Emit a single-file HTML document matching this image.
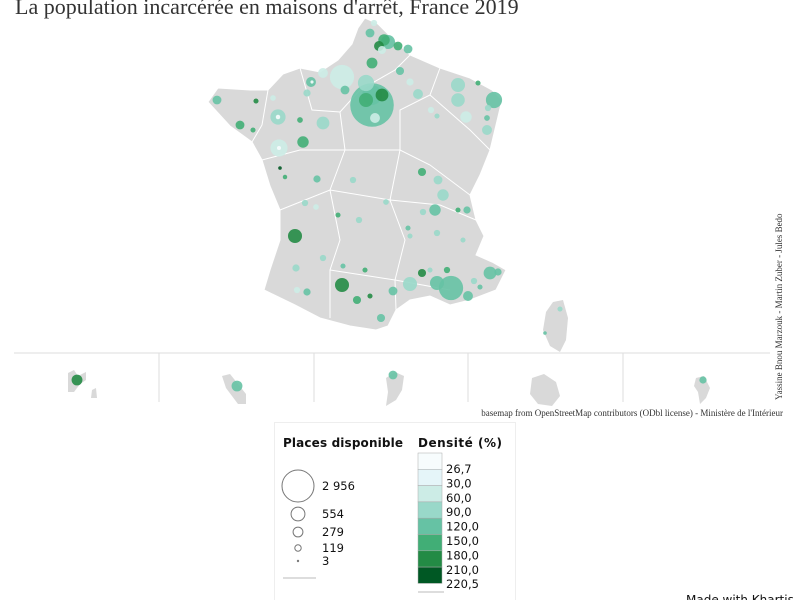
<!DOCTYPE html>
<html><head><meta charset="utf-8"><style>
body{margin:0;background:#fff;}
svg{display:block;font-family:"Liberation Serif",serif;}
.leg{font-family:"DejaVu Sans",sans-serif;}
</style></head><body>
<svg width="800" height="600" viewBox="0 0 800 600">
<text x="15" y="14" font-size="22" fill="#333">La population incarcérée en maisons d'arrêt, France 2019</text>
<g>
<path d="M365,18 L378,24 L392,38 L410,55 L440,68 L470,78 L492,90 L502,100 L496,125 L490,150 L480,175 L470,195 L476,220 L484,236 L476,255 L492,262 L506,270 L496,290 L470,300 L450,305 L430,296 L410,300 L396,310 L388,326 L376,330 L350,326 L320,318 L295,305 L264,290 L270,270 L280,240 L280,210 L270,186 L262,160 L252,142 L230,126 L208,102 L218,88 L250,90 L268,90 L283,74 L300,68 L320,72 L338,60 L352,44 L358,28 Z" fill="#d9d9d9" stroke="#fff" stroke-width="1"/>
<path d="M553,302 L563,300 L568,318 L566,340 L560,352 L550,346 L543,330 L546,312 Z" fill="#d9d9d9"/>
<g stroke="#fff" stroke-width="1" fill="none">
<path d="M300,68 L312,110 L340,112 L360,90 L395,70 L410,55"/>
<path d="M340,112 L345,150 L330,190 L340,240 L330,270 L330,318"/>
<path d="M262,160 L300,150 L345,150 L400,150 L430,165 L470,195"/>
<path d="M400,150 L400,110 L430,95 L440,68"/>
<path d="M430,95 L470,130 L490,150"/>
<path d="M400,150 L390,200 L405,240 L395,280 L396,310"/>
<path d="M390,200 L440,205 L476,220"/>
<path d="M280,210 L330,190 L390,200"/>
<path d="M330,270 L395,280 L450,290"/>
<path d="M268,90 L262,125 L252,142"/>
</g>
</g>
<g>
<line x1="14" y1="353" x2="770" y2="353" stroke="#ddd"/>
<line x1="159" y1="353" x2="159" y2="402" stroke="#ddd"/>
<line x1="314" y1="353" x2="314" y2="402" stroke="#ddd"/>
<line x1="468" y1="353" x2="468" y2="402" stroke="#ddd"/>
<line x1="623" y1="353" x2="623" y2="402" stroke="#ddd"/>
<path d="M68,373 L74,370 L78,376 L86,372 L86,380 L80,384 L74,392 L68,392 Z M92,390 L96,388 L97,398 L91,398 Z" fill="#d9d9d9"/>
<path d="M222,376 L230,374 L238,384 L246,394 L246,404 L238,404 L232,396 L226,388 Z" fill="#d9d9d9"/>
<path d="M386,378 L395,372 L404,376 L402,390 L396,400 L386,406 L388,392 Z" fill="#d9d9d9"/>
<path d="M532,378 L544,374 L556,382 L560,396 L552,406 L538,404 L530,394 Z" fill="#d9d9d9"/>
<path d="M696,378 L704,376 L710,388 L706,398 L700,404 L698,392 L694,386 Z" fill="#d9d9d9"/>
</g>
<g id="bubbles"></g>
<text x="783" y="416" font-size="9" text-anchor="end" fill="#333">basemap from OpenStreetMap contributors (ODbl license) - Ministère de l'Intérieur</text>
<text transform="translate(782,400) rotate(-90)" font-size="9" fill="#333">Yassine Bnou Marzouk - Martin Zuber - Jules Bedo</text>
<g class="leg">
<rect x="274.5" y="422.5" width="241" height="180" fill="#fff" stroke="#eee"/>
<text x="283" y="447" font-size="12" font-weight="bold" fill="#111" textLength="120">Places disponible</text>
<text x="418" y="447" font-size="12" font-weight="bold" fill="#111" textLength="84">Densité (%)</text>
<g id="sizeleg"></g>
<line x1="283" y1="578" x2="316" y2="578" stroke="#ddd" stroke-width="2"/>
<g id="colleg"></g>
<line x1="418" y1="592" x2="444" y2="592" stroke="#ddd" stroke-width="2"/>
</g>
<text x="686" y="604" font-size="12" class="leg" fill="#111">Made with Khartis</text>
</svg>
<script>
const xs=[372,372,366,382,375,374,384,379,388,398,408,382,370,372,342,323,400,410,418,458,458,466,478,431,437,494,488,487,487,311,312,307,345,366,217,256,273,278,278,300,323,240,253,279,279,303,280,285,317,295,305,353,316,338,359,386,422,438,443,435,423,458,467,437,410,463,408,296,323,343,297,307,342,357,370,365,381,393,410,422,430,451,437,468,490,498,474,480,447,560,545,77,237,393,703];
const ys=[105,95,100,95,118,23,40,46,42,46,49,50,33,63,77,73,71,82,94,85,100,117,83,110,116,100,108,118,130,82,82,93,90,83,100,101,98,117,117,120,123,125,130,148,148,142,168,177,179,236,203,180,207,215,220,202,172,180,195,210,212,210,210,233,236,240,228,268,258,266,290,292,285,300,296,270,318,291,284,273,270,288,283,296,273,272,281,287,270,309,333,380,386,375,380];
const places=[2900,600,300,250,150,60,200,150,300,120,120,100,120,180,900,150,100,80,150,300,280,200,40,60,40,400,60,50,150,150,15,80,120,400,120,40,50,350,30,50,250,120,40,450,25,200,20,30,80,300,60,60,50,40,60,50,100,120,200,200,60,40,80,60,40,40,40,80,60,40,60,80,300,100,40,40,100,120,300,100,40,900,300,150,250,80,60,40,60,40,20,180,180,120,80];
const density=[130,150,170,200,90,90,170,200,130,160,130,90,150,160,70,90,130,90,100,120,120,90,160,90,100,130,100,150,120,150,30,120,150,110,150,200,90,120,30,160,120,160,180,90,30,160,220,160,130,200,120,100,90,160,100,120,160,120,120,150,120,180,150,120,100,120,130,100,120,150,90,150,200,160,200,180,150,150,120,210,120,130,150,130,130,150,120,150,160,120,130,200,130,130,130];
const binBreaks=[26.7,30,60,90,120,150,180,210,220.5];
const binColors=["#f7fcfd","#e5f5f9","#ccece6","#99d8c9","#66c2a4","#41ae76","#238b45","#005824"];
const sizeLegendValues=[2956,554,279,119,3];
const sizeLegendLabels=["2 956","554","279","119","3"];
const NS="http://www.w3.org/2000/svg";
function rScale(v){return 22*Math.sqrt(v/2956);}
function color(d){for(let i=0;i<binColors.length;i++){if(d<=binBreaks[i+1])return binColors[i];}return binColors[binColors.length-1];}
const g=document.getElementById('bubbles');
const order=places.map((p,i)=>i).sort((a,b)=>places[b]-places[a]);
order.forEach(i=>{
 const c=document.createElementNS(NS,'circle');
 c.setAttribute('cx',xs[i]);c.setAttribute('cy',ys[i]);c.setAttribute('r',rScale(places[i]));
 c.setAttribute('fill',color(density[i]));c.setAttribute('fill-opacity','0.9');
 
 
 g.appendChild(c);
});
const sl=document.getElementById('sizeleg');
const ly=[486,514,532,548,561];
sizeLegendValues.forEach((v,i)=>{
 const c=document.createElementNS(NS,'circle');
 c.setAttribute('cx',298);c.setAttribute('cy',ly[i]);c.setAttribute('r',Math.max(0.7,16*Math.sqrt(v/2956)));
 c.setAttribute('fill','#fff');c.setAttribute('stroke','#777');
 
 
 sl.appendChild(c);
 const t=document.createElementNS(NS,'text');
 t.setAttribute('x',322);t.setAttribute('y',ly[i]+4);t.setAttribute('font-size','11.5');t.setAttribute('fill','#111');
 t.textContent=sizeLegendLabels[i];
 
 
 sl.appendChild(t);
});
const cl=document.getElementById('colleg');
const sh=16.3;
binColors.forEach((col,i)=>{
 const r=document.createElementNS(NS,'rect');
 r.setAttribute('x',418);r.setAttribute('y',453+i*sh);r.setAttribute('width',24);r.setAttribute('height',sh);
 r.setAttribute('fill',col);r.setAttribute('stroke','#aaa');r.setAttribute('stroke-width','0.5');
 
 
 cl.appendChild(r);
});
binBreaks.forEach((b,i)=>{
 const t=document.createElementNS(NS,'text');
 t.setAttribute('x',446);t.setAttribute('y',473+i*14.4);t.setAttribute('font-size','11.5');t.setAttribute('fill','#111');
 t.textContent=b.toFixed(1).replace('.',',');
 
 
 cl.appendChild(t);
});
</script>
</body></html>
